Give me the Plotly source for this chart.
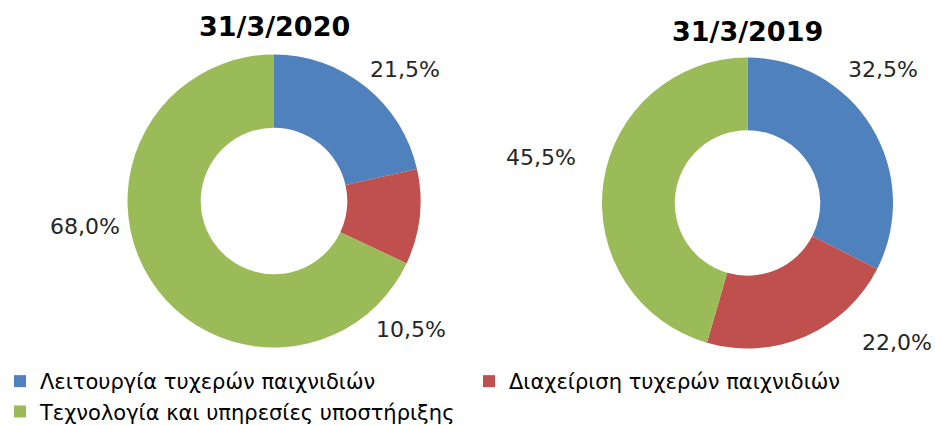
import plotly.graph_objects as go

categories = ["Λειτουργία τυχερών παιχνιδιών", "Διαχείριση τυχερών παιχνιδιών",
              "Τεχνολογία και υπηρεσίες υποστήριξης"]
values_2020 = [21.5, 10.5, 68.0]
values_2019 = [32.5, 22.0, 45.5]
titles = ["31/3/2020", "31/3/2019"]
colors = ["#4F81BD", "#C0504D", "#9BBB59"]

W, H = 935, 425

def fmt(v):
    return f"{v:.1f}".replace(".", ",") + "%"

fig = go.Figure()

def dom(cx, cy, r):
    return dict(x=[(cx - r) / W, (cx + r) / W], y=[1 - (cy + r) / H, 1 - (cy - r) / H])

for vals, d in [(values_2020, dom(274, 201, 146.5)), (values_2019, dom(747.5, 203, 145.5))]:
    fig.add_trace(go.Pie(
        labels=categories, values=vals, hole=0.5, sort=False, direction="clockwise",
        rotation=0, marker=dict(colors=colors, line=dict(width=0)),
        textinfo="none", domain=d, hoverinfo="label+percent",
    ))

# label positions (pixel centres) for the data labels
label_pos_2020 = [(405, 70), (411, 329), (85, 227)]
label_pos_2019 = [(883, 70), (897, 342), (541, 157)]
annotations = []
for vals, pos in [(values_2020, label_pos_2020), (values_2019, label_pos_2019)]:
    for v, (px, py) in zip(vals, pos):
        annotations.append(dict(x=px / W, y=1 - py / H, xref="paper", yref="paper",
                                xanchor="center", yanchor="middle",
                                text=fmt(v), showarrow=False,
                                font=dict(family="DejaVu Sans", size=22, color="#262626")))
for t, (px, py) in zip(titles, [(274, 27), (747, 31)]):
    annotations.append(dict(x=px / W, y=1 - py / H, xref="paper", yref="paper",
                            xanchor="center", yanchor="middle",
                            text=f"<b>{t}</b>", showarrow=False,
                            font=dict(family="DejaVu Sans", size=27, color="#000000")))

fig.update_layout(
    width=W, height=H, margin=dict(l=0, r=0, t=0, b=0, autoexpand=False),
    paper_bgcolor="white", plot_bgcolor="white",
    annotations=annotations,
    showlegend=True,
    legend=dict(orientation="h", x=0, xanchor="left", y=1 - 361 / H, yanchor="top",
                font=dict(family="DejaVu Sans", size=21, color="#000000"),
                entrywidth=424, entrywidthmode="pixels", traceorder="normal",
                itemwidth=30, bgcolor="rgba(0,0,0,0)"),
)

fig.write_html("out.html", config={"displayModeBar": False},
               post_script="document.body.style.margin='0px';")
